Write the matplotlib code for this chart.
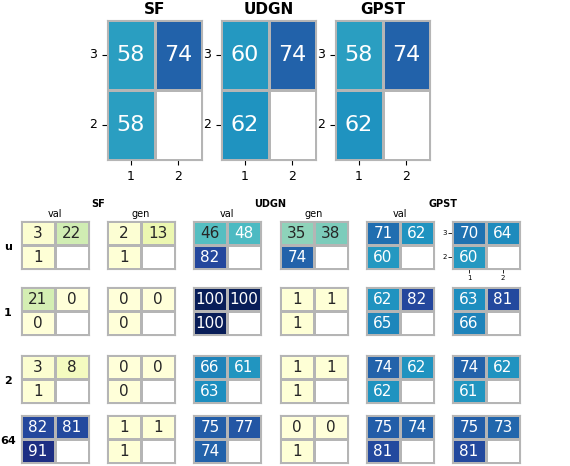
import numpy as np
import matplotlib
matplotlib.use("Agg")
import matplotlib.pyplot as plt
import seaborn as sns

n = np.nan
models = ["SF", "UDGN", "GPST"]
top_vals = {"SF": [[58, 74], [58, n]],
            "UDGN": [[60, 74], [62, n]],
            "GPST": [[58, 74], [62, n]]}
row_names = ["u", "1", "2", "64"]
splits = ["val", "gen"]
bottom_vals = {
    "u": [[[3, 22], [1, n]], [[2, 13], [1, n]], [[46, 48], [82, n]],
          [[35, 38], [74, n]], [[71, 62], [60, n]], [[70, 64], [60, n]]],
    "1": [[[21, 0], [0, n]], [[0, 0], [0, n]], [[100, 100], [100, n]],
          [[1, 1], [1, n]], [[62, 82], [65, n]], [[63, 81], [66, n]]],
    "2": [[[3, 8], [1, n]], [[0, 0], [0, n]], [[66, 61], [63, n]],
          [[1, 1], [1, n]], [[74, 62], [62, n]], [[74, 62], [61, n]]],
    "64": [[[82, 81], [91, n]], [[1, 1], [1, n]], [[75, 77], [74, n]],
           [[0, 0], [1, n]], [[75, 74], [81, n]], [[75, 73], [81, n]]],
}
y_ticks = ["3", "2"]
x_ticks = ["1", "2"]

W, H = 570, 466
fig = plt.figure(figsize=(W / 100, H / 100), dpi=100)
GRID = "#b5b5b5"


def panel(x0, y0, w, h, data, fs, ticks=False, tfs=10):
    ax = fig.add_axes([x0 / W, 1 - (y0 + h) / H, w / W, h / H])
    arr = np.array(data, dtype=float)
    sns.heatmap(arr, ax=ax, cmap="YlGnBu", vmin=0, vmax=100, cbar=False,
                annot=True, fmt=".0f", annot_kws={"size": fs},
                mask=np.isnan(arr), linewidths=1, linecolor=GRID)
    ax.axhline(1, color=GRID, lw=1)
    ax.axvline(1, color=GRID, lw=1)
    for s in ax.spines.values():
        s.set_visible(True)
        s.set_color(GRID)
    if ticks:
        ax.set_yticklabels(y_ticks, rotation=0, fontsize=tfs)
        ax.set_xticklabels(x_ticks, fontsize=tfs)
    else:
        ax.set_xticks([])
        ax.set_yticks([])
    return ax


top_x = [107, 221, 335]
for m, x in zip(models, top_x):
    ax = panel(x, 20, 95, 140, top_vals[m], 16, ticks=True, tfs=9)
    ax.set_title(m, fontsize=11, fontweight="bold", pad=4)

col_x = [21, 107, 193, 280, 366, 452]
row_y = [221, 287, 355, 415]
for m, i in zip(models, range(3)):
    cx = (col_x[2 * i] + col_x[2 * i + 1] + 68) / 2
    fig.text(cx / W, 1 - 204 / H, m, fontsize=7, fontweight="bold",
             ha="center", va="center")
    for j, sp in enumerate(splits):
        if m == "GPST" and sp == "gen":
            continue
        fig.text((col_x[2 * i + j] + 34) / W, 1 - 214 / H, sp, fontsize=7,
                 ha="center", va="center")

for r, y in zip(row_names, row_y):
    fig.text(8 / W, 1 - (y + 26) / H, r, fontsize=8, fontweight="bold",
             ha="center", va="center")
    for k, x in enumerate(col_x):
        tk = (r == "u" and k == 5)
        ax = panel(x, y, 68, 48, bottom_vals[r][k], 11, ticks=tk, tfs=5)
        if tk:
            ax.tick_params(length=3, width=0.6, pad=1)

fig.savefig("out.png", dpi=100)
